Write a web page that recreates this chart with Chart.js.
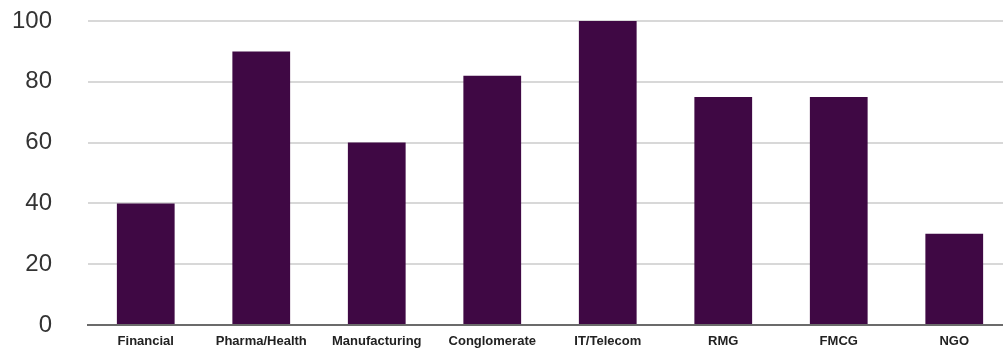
<!DOCTYPE html>
<html>
<head>
<meta charset="utf-8">
<script src="https://cdn.jsdelivr.net/npm/chart.js@4.4.0/dist/chart.umd.min.js"></script>
<style>
  html, body { margin: 0; padding: 0; background: #fff; overflow: hidden; }
  #wrap { width: 1003px; height: 352px; overflow: hidden; position: relative; }
  canvas { position: absolute; left: 0; top: 0; }
</style>
</head>
<body>
<div id="wrap"><canvas id="myChart" width="1012" height="352"></canvas></div>
<script>
// sectors and scores
const sectors = ["Financial", "Pharma/Health", "Manufacturing", "Conglomerate", "IT/Telecom", "RMG", "FMCG", "NGO"];
const scores = [40, 90, 60, 82, 100, 75, 75, 30];
const yTicks = [0, 20, 40, 60, 80, 100];

const barColor = "#3f0844";

const data = {
  labels: sectors,
  datasets: [{
    data: scores,
    backgroundColor: barColor,
    barPercentage: 0.5,
    categoryPercentage: 1
  }]
};

const config = {
  type: 'bar',
  data: data,
  options: {
    responsive: false,
    animation: false,
    layout: { padding: { top: 21, right: 0, left: 0, bottom: 0 } },
    plugins: { legend: { display: false }, tooltip: { enabled: false } },
    scales: {
      x: {
        grid: { display: false, drawTicks: false },
        border: { color: "#6b6b6b", width: 2 },
        ticks: {
          color: "#222",
          font: { family: "Liberation Sans Narrow, Liberation Sans, Arial", size: 13, weight: "bold" },
          padding: 9,
          maxRotation: 0,
          autoSkip: false
        },
        afterFit: s => { s.height = 27; }
      },
      y: {
        min: 0,
        max: 100,
        afterBuildTicks: s => { s.ticks = yTicks.map(v => ({ value: v })); },
        // transparent ticks push the labels left without extra top padding
        grid: { color: "#d8d8d8", lineWidth: 2, drawTicks: true, tickLength: 36, tickColor: "rgba(0,0,0,0)" },
        border: { display: false },
        ticks: {
          color: "#333",
          font: { family: "Liberation Sans, Arial", size: 24 },
          padding: 0
        },
        afterFit: s => { s.width = 88; }
      }
    }
  }
};

const myChart = new Chart(document.getElementById('myChart'), config);
</script>
</body>
</html>
